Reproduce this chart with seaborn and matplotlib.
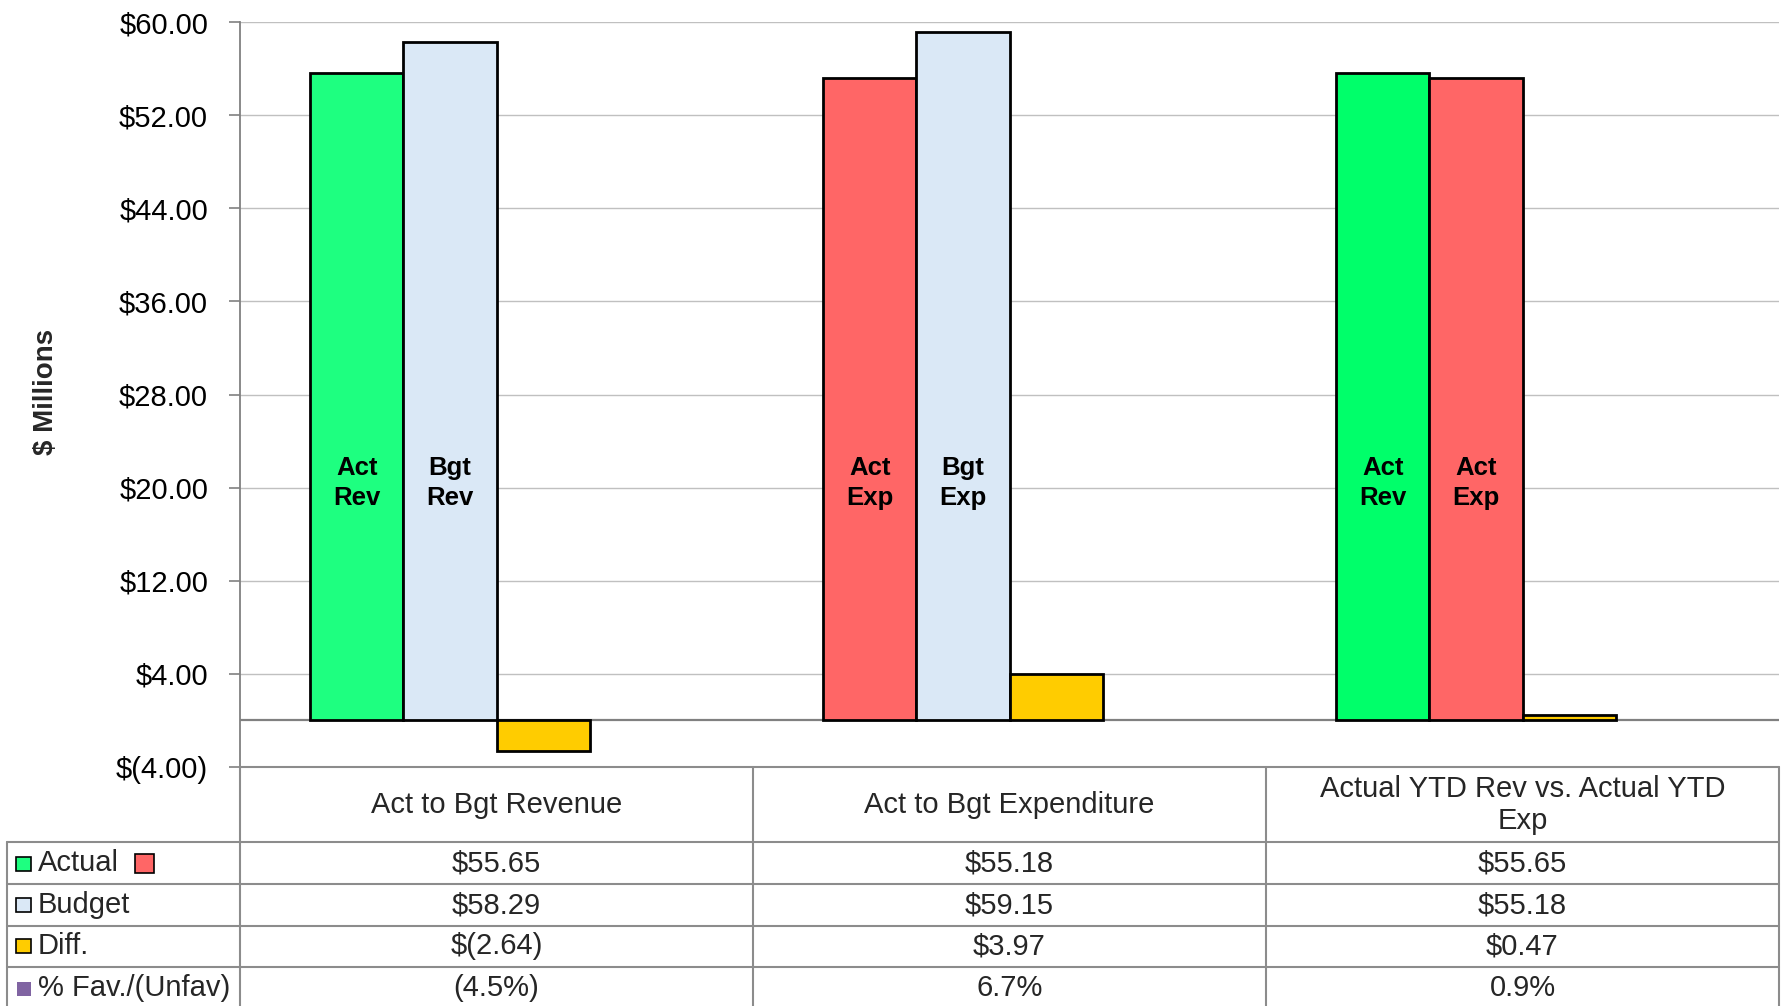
import matplotlib
matplotlib.use("Agg")
import matplotlib.pyplot as plt
from matplotlib.lines import Line2D
from matplotlib.patches import Rectangle
from matplotlib.ticker import FuncFormatter
import numpy as np
import pandas as pd
import seaborn as sns

# ---- data -------------------------------------------------------------
categories = ["Act to Bgt Revenue", "Act to Bgt Expenditure",
              "Actual YTD Rev vs. Actual YTD\nExp"]
series = ["Actual", "Budget", "Diff.", "% Fav./(Unfav)"]
actual = [55.65, 55.18, 55.65]
budget = [58.29, 59.15, 55.18]
diff = [-2.64, 3.97, 0.47]
pct_fav = [-4.5, 6.7, 0.9]
actual_tags = ["Act\nRev", "Act\nExp", "Act\nRev"]
budget_tags = ["Bgt\nRev", "Bgt\nExp", "Act\nExp"]

# ---- colours ----------------------------------------------------------
GREEN_A = "#1EFF80"
GREEN_B = "#00FF6A"
RED = "#FF6666"
BLUE = "#DAE8F6"
GOLD = "#FFCC00"
PURPLE = "#8064A2"
bar_fills = [[GREEN_A, BLUE, GOLD],
             [RED, BLUE, GOLD],
             [GREEN_B, RED, GOLD]]

W, H = 1782, 1006
sns.set_theme(style="white")
plt.rcParams["font.family"] = ["Liberation Sans", "DejaVu Sans"]

fig = plt.figure(figsize=(W / 100, H / 100), dpi=100)
ax = fig.add_axes([240 / W, 1 - 767 / H, (1779 - 240) / W, (767 - 22) / H])

df = pd.DataFrame({
    "group": np.repeat(categories, 4),
    "series": series * 3,
    "value": np.ravel(np.column_stack([actual, budget, diff,
                                       [np.nan] * 3])),
})

GROUP_W = 0.727
sns.barplot(data=df, x="group", y="value", hue="series", order=categories,
            hue_order=series, width=GROUP_W, dodge=True, errorbar=None,
            edgecolor="black", linewidth=2.0, legend=False, ax=ax,
            palette=[GREEN_A, BLUE, GOLD, PURPLE], saturation=1)

bar_w = GROUP_W / len(series)
for p in ax.patches:
    if not np.isfinite(p.get_height()) or p.get_height() == 0:
        continue
    xc = p.get_x() + p.get_width() / 2
    cat = int(round(xc))
    slot = int(round((xc - cat) / bar_w + 1.5))
    if slot < 3:
        p.set_facecolor(bar_fills[cat][slot])
    p.set_zorder(3)

# text tags inside the first two bars of each group
for i in range(len(categories)):
    for slot, tags in ((0, actual_tags), (1, budget_tags)):
        xc = i - GROUP_W / 2 + (slot + 0.5) * bar_w
        ax.text(xc, 20.4, tags[i], ha="center", va="center",
                fontsize=18.5, fontweight="bold", color="black",
                linespacing=1.3, zorder=4)

# ---- axes styling -----------------------------------------------------
ax.set_xlim(-0.5, 2.5)
ax.set_ylim(-4, 60)
ax.set_yticks(np.arange(-4, 61, 8))
ax.yaxis.set_major_formatter(FuncFormatter(
    lambda v, _: f"$({abs(v):.2f})" if v < 0 else f"${v:.2f}"))
ax.set_xlabel("")
ax.set_ylabel("")
ax.set_xticks([])
ax.tick_params(axis="y", which="major", left=True, length=8, width=1.2,
               color="#808080", pad=15, labelsize=21, labelcolor="black")
for side in ("top", "right", "bottom"):
    ax.spines[side].set_visible(False)
ax.spines["left"].set_color("#808080")
ax.spines["left"].set_linewidth(1.3)
ax.grid(axis="y", color="#C0C0C0", linewidth=1.0, zorder=0)
ax.set_axisbelow(True)
ax.axhline(0, color="#808080", linewidth=1.6, zorder=2)

fig.text(46 / W, 1 - 392 / H, "$ Millions", rotation=90, ha="center",
         va="center", fontsize=20, fontweight="bold")

# ---- data table below the chart ---------------------------------------
def fx(x):
    return x / W


def fy(y):
    return 1 - y / H


GRID = "#8C8C8C"
col_edges = [240, 753, 1266, 1779]
row_edges = [842, 884, 926, 967]

def hline(y, x0, x1):
    fig.add_artist(Line2D([fx(x0), fx(x1)], [fy(y), fy(y)], color=GRID,
                          linewidth=1.5))

def vline(x, y0, y1):
    fig.add_artist(Line2D([fx(x), fx(x)], [fy(y0), fy(y1)], color=GRID,
                          linewidth=1.5))

hline(767, 240, 1779)
for y in row_edges:
    hline(y, 7, 1779)
for x in col_edges:
    vline(x, 767, H + 2)
vline(7, 842, H + 2)

def money(v):
    return f"$({abs(v):.2f})" if v < 0 else f"${v:.2f}"

def percent(v):
    return f"({abs(v):.1f}%)" if v < 0 else f"{v:.1f}%"

row_text = [[money(v) for v in actual],
            [money(v) for v in budget],
            [money(v) for v in diff],
            [percent(v) for v in pct_fav]]
row_centres = [863, 905, 946.5, 987.5]
col_centres = [(a + b) / 2 for a, b in zip(col_edges[:-1], col_edges[1:])]

for c, label in zip(col_centres, categories):
    fig.text(fx(c), fy(805), label, ha="center", va="center",
             fontsize=21, linespacing=1.22)

for yc, vals in zip(row_centres, row_text):
    for c, t in zip(col_centres, vals):
        fig.text(fx(c), fy(yc), t, ha="center", va="center", fontsize=21)

# legend keys in the label column
def key(x0, yc, size, color, edge=True, h=None):
    h = size if h is None else h
    fig.add_artist(Rectangle((fx(x0), fy(yc + h / 2)), size / W, h / H,
                             facecolor=color,
                             edgecolor="black" if edge else "none",
                             linewidth=1.2 if edge else 0,
                             transform=fig.transFigure))

key(16, 863.5, 15, GREEN_A, h=14)
key(134.5, 863.5, 19, RED)
key(16, 905, 15, BLUE, h=14)
key(16, 946, 15, GOLD, h=14)
key(17, 989, 14, PURPLE, edge=False)

for yc, name in zip(row_centres, series):
    fig.text(fx(38), fy(yc), name, ha="left", va="center", fontsize=21)

fig.savefig("out.png", dpi=100)
